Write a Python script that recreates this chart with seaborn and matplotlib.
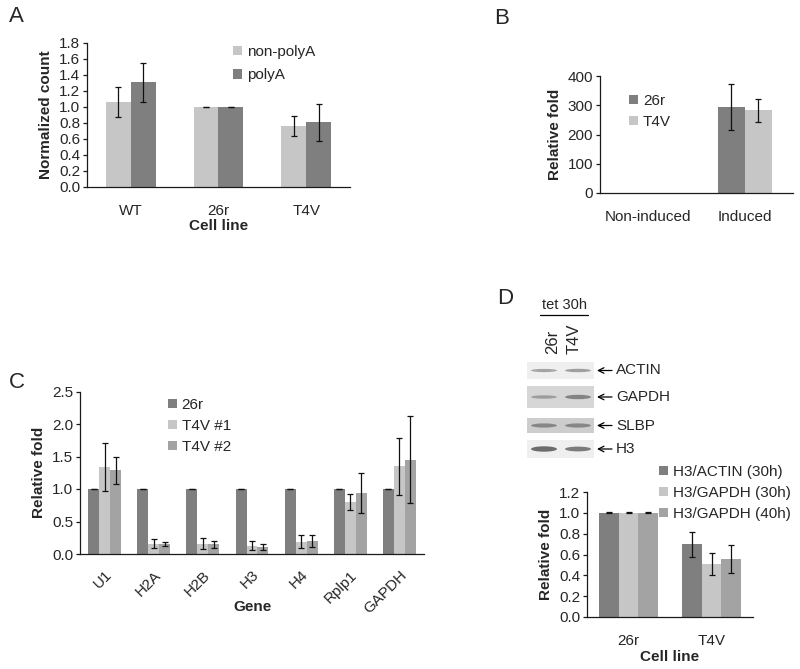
import numpy as np
import pandas as pd
import matplotlib
matplotlib.use('Agg')
import matplotlib.pyplot as plt
import seaborn as sns
from matplotlib.patches import Rectangle, Ellipse

# ================= data =================
A_cells = ['WT', '26r', 'T4V']
A_series = ['non-polyA', 'polyA']
A_nonpoly = [1.06, 1.00, 0.76]
A_nonpoly_err = [0.19, 0.005, 0.125]
A_poly = [1.31, 1.00, 0.81]
A_poly_err = [0.245, 0.005, 0.23]

B_cond = ['Non-induced', 'Induced']
B_series = ['26r', 'T4V']
B_26r = [1.0, 295]
B_26r_err = [0, 79]
B_t4v = [1.0, 283]
B_t4v_err = [0, 39]

C_genes = ['U1', 'H2A', 'H2B', 'H3', 'H4', 'Rplp1', 'GAPDH']
C_series = ['26r', 'T4V #1', 'T4V #2']
C_26r = [1.0, 1.0, 1.0, 1.0, 1.0, 1.0, 1.0]
C_26r_err = [0.005] * 7
C_t4v1 = [1.34, 0.16, 0.16, 0.13, 0.19, 0.80, 1.35]
C_t4v1_err = [0.37, 0.07, 0.08, 0.07, 0.10, 0.12, 0.44]
C_t4v2 = [1.29, 0.16, 0.15, 0.11, 0.20, 0.94, 1.45]
C_t4v2_err = [0.21, 0.03, 0.05, 0.05, 0.09, 0.31, 0.67]

D_cells = ['26r', 'T4V']
D_series = ['H3/ACTIN (30h)', 'H3/GAPDH (30h)', 'H3/GAPDH (40h)']
D_actin30 = [1.0, 0.70]
D_actin30_err = [0.005, 0.12]
D_gapdh30 = [1.0, 0.51]
D_gapdh30_err = [0.005, 0.105]
D_gapdh40 = [1.0, 0.56]
D_gapdh40_err = [0.005, 0.135]

# western blot (band strength per lane: 26r, T4V)
blot_names = ['ACTIN', 'GAPDH', 'SLBP', 'H3']
blot_bg = ['#efefef', '#d6d6d6', '#cdcdcd', '#efefef']
blot_bands = [[0.30, 0.35], [0.35, 0.60], [0.55, 0.55], [0.85, 0.70]]

DARK = '#7f7f7f'
LIGHT = '#c6c6c6'
MID = '#a3a3a3'
TICK_FS = 11

sns.set_theme(style='white')
plt.rcParams['font.family'] = ['Liberation Sans', 'DejaVu Sans']
plt.rcParams['font.size'] = 10


def make_df(cats, names, vals):
    rows = []
    for name, v in zip(names, vals):
        for c, x in zip(cats, v):
            rows.append({'cat': c, 'series': name, 'value': x})
    return pd.DataFrame(rows)


def draw_panel(ax, cats, names, vals, errs, colors, width, ylim, yticks, ylabel, xlabel):
    df = make_df(cats, names, vals)
    sns.barplot(data=df, x='cat', y='value', hue='series', palette=colors,
                width=width, errorbar=None, saturation=1, ax=ax, edgecolor='none')
    for cont, err in zip(ax.containers, errs):
        pts = [(b.get_x() + b.get_width() / 2, b.get_height(), e)
               for b, e in zip(cont, err) if e > 0]
        if not pts:
            continue
        xs, ys, es = zip(*pts)
        ax.errorbar(xs, ys, yerr=es, fmt='none', ecolor='#111111',
                    elinewidth=0.9, capsize=2.5, capthick=0.9)
    ax.set_ylim(*ylim)
    ax.set_yticks(yticks)
    ax.set_xlim(-0.5, len(cats) - 0.5)
    for s in ['top', 'right']:
        ax.spines[s].set_visible(False)
    for s in ['left', 'bottom']:
        ax.spines[s].set_color('#1a1a1a')
        ax.spines[s].set_linewidth(0.9)
    ax.tick_params(axis='y', left=True, length=3, width=0.9, color='#1a1a1a',
                   labelsize=TICK_FS, pad=2)
    ax.tick_params(axis='x', bottom=False, labelsize=TICK_FS, pad=6)
    ax.set_ylabel(ylabel, fontsize=11, fontweight='bold')
    ax.set_xlabel(xlabel, fontsize=11, fontweight='bold', labelpad=1)


def legend(ax, anchor, spacing=0.3):
    ax.legend(loc='upper left', bbox_to_anchor=anchor, frameon=False,
              handlelength=0.6, handleheight=0.6, handletextpad=0.3,
              labelspacing=spacing, fontsize=TICK_FS, borderpad=0,
              borderaxespad=0)


fig = plt.figure(figsize=(8, 6.69), dpi=100)
W, H = 800, 669


def axes_px(l, t, r, b):
    return fig.add_axes([l / W, 1 - b / H, (r - l) / W, (b - t) / H])


# ---- Panel A ----
axA = axes_px(87, 43, 350, 187)
draw_panel(axA, A_cells, A_series, [A_nonpoly, A_poly], [A_nonpoly_err, A_poly_err],
           [LIGHT, DARK], 0.57, (0, 1.8), np.arange(0, 1.81, 0.2),
           'Normalized count', 'Cell line')
axA.set_yticklabels([f'{v:.1f}' for v in np.arange(0, 1.81, 0.2)])
legend(axA, ((233 - 87) / 263, 1 - (45 - 43) / 144), spacing=0.6)

# ---- Panel B ----
axB = axes_px(600, 76, 793, 193)
draw_panel(axB, B_cond, B_series, [B_26r, B_t4v], [B_26r_err, B_t4v_err],
           [DARK, LIGHT], 0.56, (0, 400), [0, 100, 200, 300, 400],
           'Relative fold', '')
legend(axB, ((629 - 600) / 193, 1 - (94 - 76) / 117), spacing=0.45)

# ---- Panel C ----
axC = axes_px(80, 391.5, 424, 554)
draw_panel(axC, C_genes, C_series, [C_26r, C_t4v1, C_t4v2],
           [C_26r_err, C_t4v1_err, C_t4v2_err],
           [DARK, LIGHT, MID], 0.67, (0, 2.5), [0, 0.5, 1.0, 1.5, 2.0, 2.5],
           'Relative fold', 'Gene')
axC.set_yticklabels([f'{v:.1f}' for v in [0, 0.5, 1.0, 1.5, 2.0, 2.5]])
plt.setp(axC.get_xticklabels(), rotation=45, ha='right', rotation_mode='anchor')
axC.tick_params(axis='x', pad=4)
axC.xaxis.set_label_coords(0.5, (554 - 607) / 162.5)
axC.xaxis.label.set_va('center')
legend(axC, ((168 - 80) / 344, 1 - (398 - 391.5) / 162.5), spacing=0.45)

# ---- Panel D ----
axD = axes_px(587, 492, 753, 617)
draw_panel(axD, D_cells, D_series, [D_actin30, D_gapdh30, D_gapdh40],
           [D_actin30_err, D_gapdh30_err, D_gapdh40_err],
           [DARK, LIGHT, MID], 0.70, (0, 1.2), np.arange(0, 1.21, 0.2),
           'Relative fold', 'Cell line')
axD.set_yticklabels([f'{v:.1f}' for v in np.arange(0, 1.21, 0.2)])
axD.xaxis.set_label_coords(0.5, (617 - 657) / 125)
axD.xaxis.label.set_va('center')
legend(axD, ((659 - 587) / 166, 1 + (492 - 465) / 125), spacing=0.45)

# ---- overlay: panel letters and blot ----
ov = fig.add_axes([0, 0, 1, 1], zorder=-1)
ov.set_xlim(0, W)
ov.set_ylim(H, 0)
ov.axis('off')
for letter, x, y in [('A', 9, 16), ('B', 494, 19), ('C', 9, 382), ('D', 497, 298)]:
    ov.text(x, y, letter, fontsize=16, va='center', ha='left')

# blot
ov.text(564, 305, 'tet 30h', fontsize=10.5, ha='center', va='center')
ov.plot([540, 588], [314.5, 314.5], color='black', lw=0.9)
ov.text(553, 354, '26r', fontsize=12, rotation=90, ha='center', va='bottom')
ov.text(574, 354, 'T4V', fontsize=12, rotation=90, ha='center', va='bottom')
boxes = [(362, 379), (386, 408), (418, 433), (440, 458)]
for name, bg, bands, (t, b) in zip(blot_names, blot_bg, blot_bands, boxes):
    ov.add_patch(Rectangle((527, t), 67, b - t, facecolor=bg, edgecolor='none'))
    cy = (t + b) / 2
    for lx, s in zip([544, 578], bands):
        g = 0.75 - 0.45 * s
        ov.add_patch(Ellipse((lx, cy), 26, 2 + 4 * s, facecolor=(g, g, g),
                             edgecolor='none', alpha=0.9))
    ov.annotate('', xy=(597, cy), xytext=(612, cy),
                arrowprops=dict(arrowstyle='->', lw=0.9, color='black',
                                shrinkA=0, shrinkB=0))
    ov.text(616, cy, name, fontsize=11, ha='left', va='center')

fig.savefig('out.png', dpi=100)
